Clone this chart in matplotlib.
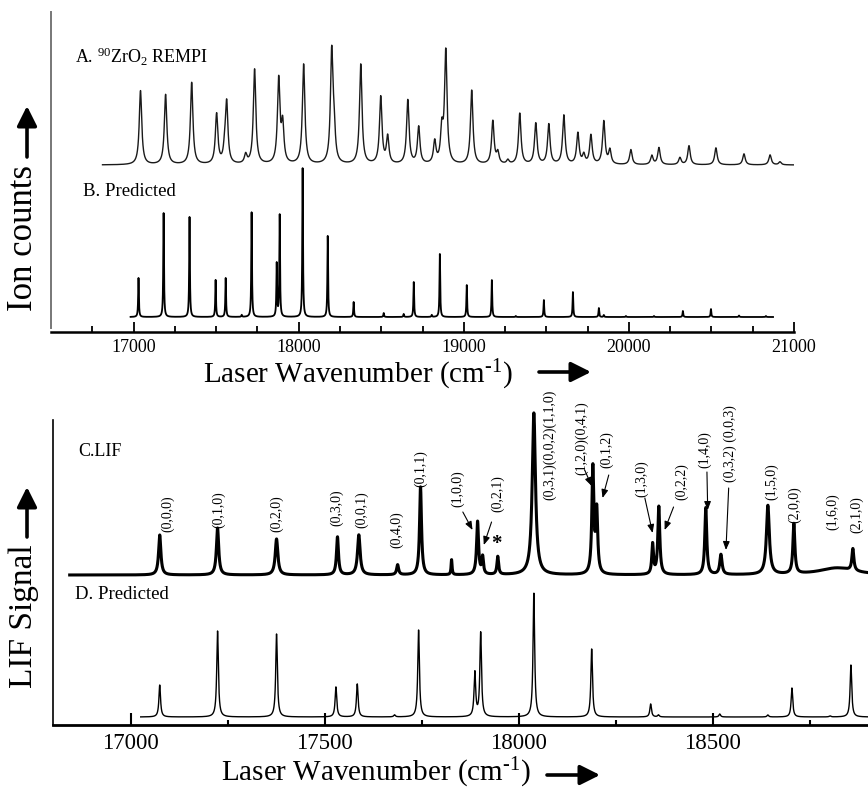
import numpy as np
import matplotlib
matplotlib.use("Agg")
import matplotlib.pyplot as plt
from matplotlib.ticker import FixedLocator
from matplotlib.patches import FancyArrowPatch

plt.rcParams['font.family'] = ['Liberation Serif', 'DejaVu Serif']
plt.rcParams['mathtext.fontset'] = 'custom'
plt.rcParams['mathtext.rm'] = 'Liberation Serif'
plt.rcParams['mathtext.it'] = 'Liberation Serif:italic'
plt.rcParams['mathtext.default'] = 'regular'

# ---------------- data ----------------
# A: 90ZrO2 REMPI spectrum (peak centres in cm^-1, heights in arbitrary units)
A_pos = [17042, 17194, 17352, 17503, 17552, 17564, 17679, 17733, 17879, 17903,
         18030, 18200, 18214, 18376, 18497, 18539, 18661, 18727, 18824, 18867,
         18891, 19048, 19176, 19206, 19267, 19339, 19436, 19515, 19606, 19691,
         19727, 19770, 19848, 19885, 20012, 20139, 20182, 20309, 20364, 20527,
         20697, 20855, 20915]
A_hgt = [74, 70, 82, 50, 12, 60, 9, 95, 84, 38,
         100, 110, 30, 100, 67, 27, 64, 37, 22, 32,
         112, 74, 43, 11, 4, 51, 41, 40, 49, 31,
         9, 29, 43, 14, 15, 9, 17, 7, 19, 17,
         11, 10, 3]
A_range = (16812, 21036)
A_base = 167

# B: predicted REMPI
B_pos = [17030, 17182, 17339, 17497, 17558, 17655, 17715, 17867, 17885, 18024,
         18176, 18333, 18515, 18636, 18697, 18806, 18855, 19018, 19170, 19315,
         19485, 19661, 19818, 19848, 19982, 20152, 20327, 20497, 20667, 20830]
B_hgt = [39, 104, 100, 37, 39, 2, 105, 53, 102, 149,
         81, 15, 4, 3, 35, 2, 63, 32, 37, 1,
         17, 25, 9, 2, 1, 1, 6, 8, 1.5, 1]
B_range = (16982, 20873)
B_base = 15

# C: LIF spectrum
C_pos = [17075, 17224, 17376, 17533, 17588, 17688, 17747, 17827, 17894, 17907,
         17946, 18039, 18191, 18201, 18345, 18361, 18482, 18521, 18642, 18709,
         18820, 18861]
C_hgt = [40, 47, 36, 38, 40, 10, 88, 15, 53, 17,
         18, 162, 106, 62, 30, 68, 67, 20, 69, 50,
         7, 22]
C_wid = [7, 7, 8, 6, 8, 6, 6, 3, 6, 5,
         5, 10, 6, 6, 5, 6, 6, 7, 9, 6,
         110, 6]
C_range = (16843, 18950)
C_base = 150

# D: predicted LIF
D_pos = [17075, 17224, 17376, 17529, 17584, 17680, 17742, 17887, 17902, 18039,
         18188, 18340, 18360, 18518, 18642, 18704, 18802, 18856]
D_hgt = [32, 86, 83, 30, 33, 2, 87, 44, 84, 124,
         68, 13, 2, 3, 2, 29, 1, 52]
D_range = (17026, 18950)
D_base = 8

# assignments in panel C: text, x (cm^-1), bottom of text (axis units)
lab_txt = ['(0,0,0)', '(0,1,0)', '(0,2,0)', '(0,3,0)', '(0,0,1)', '(0,4,0)',
           '(0,1,1)', '(1,0,0)', '(0,2,1)', '(0,3,1)(0,0,2)(1,1,0)',
           '(1,2,0)(0,4,1)', '(0,1,2)', '(1,3,0)', '(0,2,2)', '(1,4,0)',
           '(0,3,2) (0,0,3)', '(1,5,0)', '(2,0,0)', '(1,6,0)', '(2,1,0)']
lab_x = [17095, 17227, 17376, 17531, 17595, 17686, 17747, 17843, 17946, 18080,
         18162, 18227, 18317, 18420, 18479, 18546, 18652, 18711, 18809, 18871]
lab_y = [193, 197, 193, 199, 197, 177, 238, 218, 213, 225,
         250, 257, 228, 225, 257, 243, 225, 202, 195, 192]

# pointer arrows in panel C: (x0, y0) -> (x1, y1)
arr_from = [(17856, 213), (17930, 203), (18170, 255), (18232, 250),
            (18325, 227), (18399, 218), (18485, 253), (18541, 237)]
arr_to = [(17881, 195), (17910, 180), (18188, 239), (18216, 227),
          (18345, 192), (18376, 195), (18487, 215), (18534, 175)]
star_xy = (17943, 181)

top_major = [17000, 18000, 19000, 20000, 21000]
top_minor = [16750, 17250, 17500, 17750, 18250, 18500, 18750, 19250, 19500,
             19750, 20250, 20500, 20750]
bot_major = [17000, 17500, 18000, 18500]
bot_minor = [17250, 17750, 18250, 18750]


def spectrum(pos, hgt, wid, lo, hi, base, n):
    x = np.linspace(lo, hi, n)
    y = np.full_like(x, float(base))
    for p, h, w in zip(pos, hgt, wid):
        y += h / (1.0 + ((x - p) / (w / 2.0)) ** 2)
    return x, y


W, H = 868, 789
fig = plt.figure(figsize=(W / 100, H / 100), dpi=100)


def fx(px):
    return px / W


def fy(py):
    return 1 - py / H


# ---------------- top panel ----------------
ax1 = fig.add_axes([fx(51), fy(332), (794 - 51) / W, (332 - 12) / H])
ax1.set_xlim(16500, 21000)
ax1.set_ylim(0, 320)
xa, ya = spectrum(A_pos, A_hgt, [18] * len(A_pos), *A_range, A_base, 9000)
ax1.plot(xa, ya, color='#1a1a1a', lw=1.0)
xb, yb = spectrum(B_pos, B_hgt, [5] * len(B_pos), *B_range, B_base, 12000)
ax1.plot(xb, yb, color='black', lw=1.3)
for s in ['top', 'right']:
    ax1.spines[s].set_visible(False)
ax1.spines['bottom'].set_linewidth(1.8)
ax1.spines['left'].set_color('#777777')
ax1.spines['left'].set_linewidth(1.4)
ax1.spines['left'].set_bounds(4, 320)
ax1.set_yticks([])
ax1.xaxis.set_major_locator(FixedLocator(top_major))
ax1.xaxis.set_minor_locator(FixedLocator(top_minor))
ax1.tick_params(axis='x', which='major', direction='in', length=7.5, width=1.3,
                labelsize=13, pad=5)
ax1.tick_params(axis='x', which='minor', direction='in', length=4.5, width=1.3)
ax1.set_xticklabels([str(v) for v in top_major])

# ---------------- bottom panel ----------------
ax2 = fig.add_axes([fx(53), fy(725), 1 - fx(53), (725 - 410) / H])
ax2.set_xlim(16800, 18900)
ax2.set_ylim(0, 315)
xc, yc = spectrum(C_pos, C_hgt, C_wid, *C_range, C_base, 8000)
ax2.plot(xc, yc, color='black', lw=2.2)
xd, yd = spectrum(D_pos, D_hgt, [5] * len(D_pos), *D_range, D_base, 8000)
ax2.plot(xd, yd, color='black', lw=1.0)
for s in ['top', 'right']:
    ax2.spines[s].set_visible(False)
ax2.spines['bottom'].set_linewidth(2.0)
ax2.spines['left'].set_linewidth(1.2)
ax2.spines['left'].set_bounds(0, 305)
ax2.set_yticks([])
ax2.xaxis.set_major_locator(FixedLocator(bot_major))
ax2.xaxis.set_minor_locator(FixedLocator(bot_minor))
ax2.tick_params(axis='x', which='major', direction='in', length=8.5, width=1.5,
                labelsize=16.5, pad=6)
ax2.tick_params(axis='x', which='minor', direction='in', length=3.6, width=1.5)
ax2.set_xticklabels([str(v) for v in bot_major])

for t, x, y in zip(lab_txt, lab_x, lab_y):
    ax2.text(x, y, t, rotation=90, ha='center', va='bottom', fontsize=10)
for a, b in zip(arr_from, arr_to):
    ax2.annotate('', xy=b, xytext=a,
                 arrowprops=dict(arrowstyle='-|>,head_length=0.5,head_width=0.2',
                                 lw=0.8, color='black', mutation_scale=10,
                                 shrinkA=0, shrinkB=0))
ax2.text(*star_xy, '*', ha='center', va='center', fontsize=15, fontweight='bold')

# ---------------- texts ----------------
fig.text(fx(75), fy(63), r'A. $^{90}$ZrO$_2$ REMPI', fontsize=13, va='baseline')
fig.text(fx(83), fy(196), 'B. Predicted', fontsize=13.5, va='baseline')
fig.text(fx(78), fy(456), 'C.LIF', fontsize=13, va='baseline')
fig.text(fx(75), fy(599), 'D. Predicted', fontsize=13.5, va='baseline')

xlabel = r'Laser Wavenumber (cm$^{\text{-1}}$)'
fig.text(fx(358), fy(383), xlabel, fontsize=21, ha='center', va='baseline')
fig.text(fx(376), fy(781), xlabel, fontsize=21, ha='center', va='baseline')
fig.text(fx(24), fy(238), 'Ion counts', rotation=90, fontsize=25,
         ha='center', va='center')
fig.text(fx(24), fy(616), 'LIF Signal', rotation=90, fontsize=24,
         ha='center', va='center')

big = dict(arrowstyle='-|>,head_length=0.6,head_width=0.3', lw=2.6,
           color='black', mutation_scale=20, shrinkA=0, shrinkB=0)
for (x0, y0, x1, y1) in [(539, 372, 591, 372), (547, 775, 600, 775),
                         (27, 157, 27, 106), (27, 537, 27, 487)]:
    fig.add_artist(FancyArrowPatch((fx(x0), fy(y0)), (fx(x1), fy(y1)),
                                   transform=fig.transFigure, **big))

fig.savefig('out.png', dpi=100)
